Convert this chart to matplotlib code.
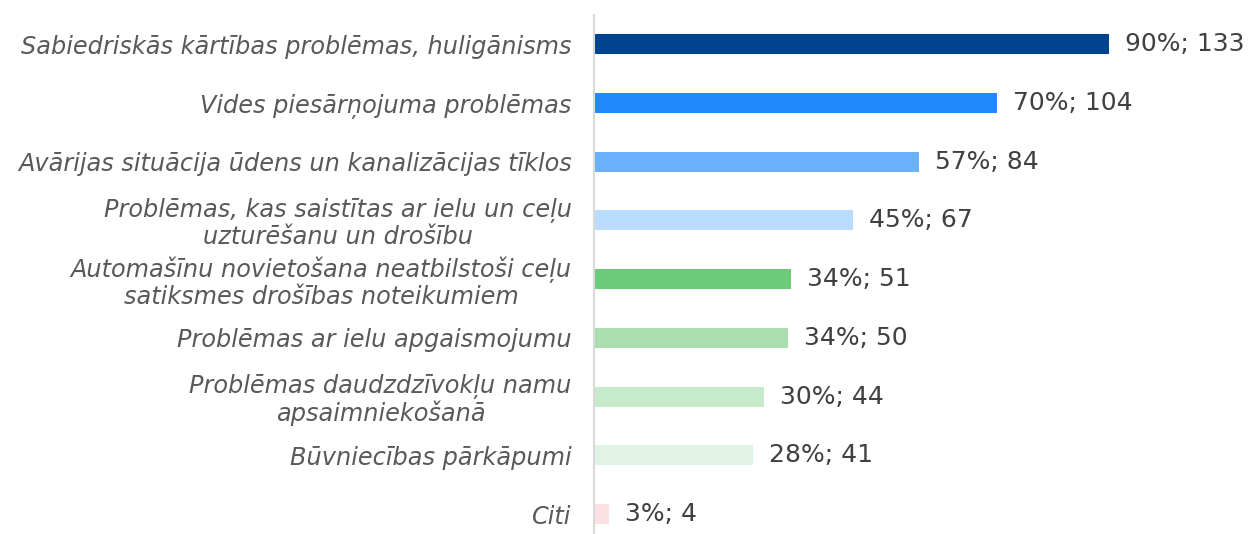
import matplotlib
matplotlib.use("Agg")
import matplotlib.pyplot as plt

categories = [
    "Sabiedriskās kārtības problēmas, huligānisms",
    "Vides piesārņojuma problēmas",
    "Avārijas situācija ūdens un kanalizācijas tīklos",
    "Problēmas, kas saistītas ar ielu un ceļu\nuzturēšanu un drošību",
    "Automašīnu novietošana neatbilstoši ceļu\nsatiksmes drošības noteikumiem",
    "Problēmas ar ielu apgaismojumu",
    "Problēmas daudzdzīvokļu namu\napsaimniekošanā",
    "Būvniecības pārkāpumi",
    "Citi",
]
counts = [133, 104, 84, 67, 51, 50, 44, 41, 4]
percents = [90, 70, 57, 45, 34, 34, 30, 28, 3]
colors = ["#00448F", "#2189FC", "#6BB0FD", "#B9DBFD", "#6BCB79",
          "#A9DFAE", "#C6EBCA", "#E1F3E4", "#FCE1E4"]

W, H = 1248, 534
fig = plt.figure(figsize=(W / 100, H / 100), dpi=100)
ax = fig.add_axes([594 / W, 0, 1 - 594 / W, (534 - 15) / H])

y = list(range(len(categories)))
ax.barh(y, counts, height=0.34, color=colors)
ax.set_ylim(8 + (534 - 514) / 58.75, -0.5)
ax.set_xlim(0, (W - 594) / 3.872)

for yi, c, p in zip(y, counts, percents):
    ax.annotate(f"{p}%; {c}", (c, yi), xytext=(16, 0), textcoords="offset pixels",
                va="center", ha="left", fontsize=18, color="#404040",
                family="DejaVu Sans")

ax.set_yticks(y)
ax.set_yticklabels(categories, fontsize=17.3, color="#595959", style="italic",
                   family="DejaVu Sans", multialignment="center", linespacing=1.1)
ax.tick_params(axis="y", length=0, pad=16)
ax.set_xticks([])
for s in ["top", "right", "bottom"]:
    ax.spines[s].set_visible(False)
ax.spines["left"].set_color("#D9D9D9")
ax.spines["left"].set_linewidth(1.5)

fig.savefig("out.png", dpi=100)
